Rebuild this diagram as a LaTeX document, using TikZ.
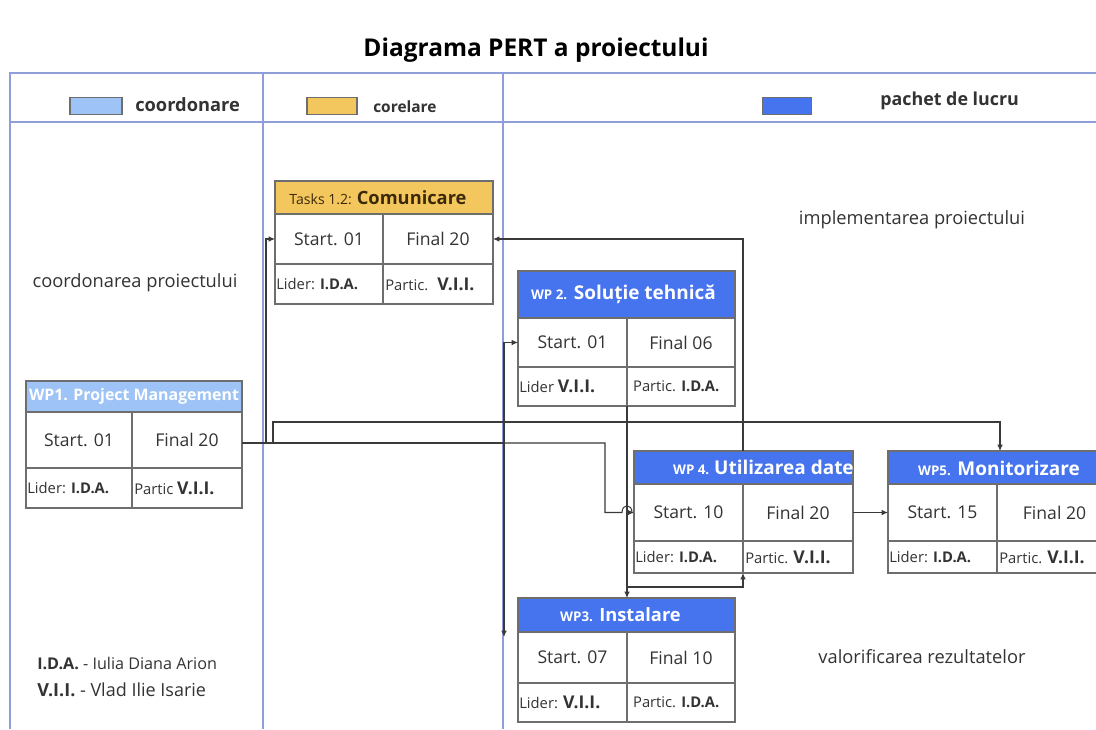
\documentclass[tikz,border=0pt]{standalone}
\usepackage{fontspec}
\setmainfont{Open Sans}
\usetikzlibrary{arrows.meta,calc}
\definecolor{colline}{HTML}{8E9ED8}
\definecolor{lblue}{HTML}{9DC3F7}
\definecolor{gold}{HTML}{F4C75E}
\definecolor{wpblue}{HTML}{4673EE}
\definecolor{bord}{HTML}{6E6E6E}
\definecolor{connc}{HTML}{3A3A3A}
\definecolor{txt}{HTML}{333333}
\definecolor{brownt}{HTML}{3B2A0A}

\newcommand{\wpbox}[9]{%
 \node[cellbox, fill=#9, anchor=north west, minimum width={(#4-#2)*0.025cm}, minimum height={(#6-#5)*0.025cm}] (#1-h) at (#2,#5) {};
 \node[cellbox, anchor=north west, minimum width={(#3-#2)*0.025cm}, minimum height={(#7-#6)*0.025cm}] (#1-s) at (#2,#6) {};
 \node[cellbox, anchor=north west, minimum width={(#4-#3)*0.025cm}, minimum height={(#7-#6)*0.025cm}] (#1-f) at (#3,#6) {};
 \node[cellbox, anchor=north west, minimum width={(#3-#2)*0.025cm}, minimum height={(#8-#7)*0.025cm}] (#1-l) at (#2,#7) {};
 \node[cellbox, anchor=north west, minimum width={(#4-#3)*0.025cm}, minimum height={(#8-#7)*0.025cm}] (#1-p) at (#3,#7) {};
}
\newcommand{\wptext}[5]{%
 \node[sttxt] (#1-st) at (#1-s) {#2};
 \node[sttxt] (#1-ft) at (#1-f) {#3};
 \node[smtxt, anchor=west] (#1-lt) at ($(#1-l.west)+(1,0)$) {#4};
 \node[smtxt, anchor=west] (#1-pt) at ($(#1-p.west)+(2,0)$) {#5};
}
\newcommand{\bvii}{{\bfseries\fontsize{12.5}{14}\selectfont V.I.I.}}

\begin{document}
\begin{tikzpicture}[x=0.025cm, y=-0.025cm,
  cellbox/.style={draw=bord, line width=0.9pt, inner sep=0pt, outer sep=0pt},
  conn/.style={draw=connc, line width=0.75pt, -{Latex[length=4.5pt,width=4pt]}},
  colline/.style={draw=colline, line width=1.3pt},
  sttxt/.style={font=\fontsize{12.5}{14}\selectfont, text=txt, inner sep=0pt},
  smtxt/.style={font=\fontsize{10.5}{12}\selectfont, text=txt, inner sep=0pt},
  hdrtxt/.style={font=\bfseries\fontsize{11.5}{13}\selectfont, text=white, inner sep=0pt},
  swatch/.style={draw=bord, line width=0.8pt, inner sep=0pt, minimum height={17*0.025cm}},
  legtxt/.style={font=\bfseries\fontsize{13}{15}\selectfont, text=txt, inner sep=0pt},
  coltxt/.style={font=\fontsize{13}{15}\selectfont, text=txt, inner sep=0pt}
]
\clip (0,0) rectangle (1096,729);
\fill[white] (0,0) rectangle (1096,729);

% frame
\draw[colline] (10,729) -- (10,73) -- (1096,73);
\draw[colline] (10,122) -- (1096,122);
\draw[colline] (263,73) -- (263,729);
\draw[colline] (503,73) -- (503,729);

% title
\node[font=\bfseries\fontsize{17.4}{20}\selectfont, text=black] (title) at (536,50) {Diagrama PERT a proiectului};

% legend
\node[swatch, fill=lblue, minimum width={52*0.025cm}] (lg1) at (96,106) {};
\node[legtxt, anchor=west] (lg1t) at (135,105) {coordonare};
\node[swatch, fill=gold, minimum width={50*0.025cm}] (lg2) at (332,106) {};
\node[legtxt, anchor=west, font=\bfseries\fontsize{11}{13}\selectfont] (lg2t) at (373,107) {corelare};
\node[swatch, fill=wpblue, minimum width={49*0.025cm}] (lg3) at (787,106) {};
\node[legtxt, anchor=west, font=\bfseries\fontsize{12.7}{15}\selectfont] (lg3t) at (880,101) {pachet de lucru};

% column texts
\node[coltxt] (c1) at (135,283) {coordonarea proiectului};
\node[coltxt] (c3a) at (912,220) {implementarea proiectului};
\node[coltxt] (c3b) at (922,657) {valorificarea rezultatelor};

\node[coltxt, anchor=west, font=\fontsize{11.5}{13}\selectfont] (n1) at (37,663) {\textbf{I.D.A.} - Iulia Diana Arion};
\node[coltxt, anchor=west, font=\fontsize{12.8}{15}\selectfont] (n2) at (37,690) {\textbf{V.I.I.} - Vlad Ilie Isarie};

% boxes
\wpbox{wp1}{26}{132}{242}{381}{412}{468}{508}{lblue}
\wpbox{tk}{275}{383}{493}{181}{214}{264}{304}{gold}
\wpbox{wp2}{518}{627}{735}{271}{318}{367}{406}{wpblue}
\wpbox{wp4}{634}{743}{853}{451}{484}{541}{573}{wpblue}
\wpbox{wp5}{888}{997}{1112}{451}{484}{541}{573}{wpblue}
\wpbox{wp3}{518}{627}{735}{598}{632}{683}{722}{wpblue}

% header texts
\node[hdrtxt, font=\bfseries\fontsize{11.3}{13}\selectfont] (wp1-ht) at (wp1-h) {WP1. Project Management};
\node[hdrtxt, text=brownt, font=\fontsize{10}{12}\selectfont] (tk-ht) at ($(tk-h)+(-6,0)$) {Tasks 1.2: {\bfseries\fontsize{13}{15}\selectfont Comunicare}};
\node[hdrtxt, font=\bfseries\fontsize{13.5}{15}\selectfont] (wp2-ht) at ($(wp2-h)+(-3,0)$) {{\fontsize{9.5}{11}\selectfont WP 2.} Soluție tehnică};
\node[hdrtxt, anchor=east, font=\bfseries\fontsize{13.5}{15}\selectfont] (wp4-ht) at ($(wp4-h.east)+(1,0)$) {{\fontsize{9.5}{11}\selectfont WP 4.}~Utilizarea date};
\node[hdrtxt, font=\bfseries\fontsize{13.5}{15}\selectfont] (wp5-ht) at (999,468) {{\fontsize{9.5}{11}\selectfont WP5.} Monitorizare};
\node[hdrtxt, font=\bfseries\fontsize{13}{15}\selectfont] (wp3-ht) at ($(wp3-h)+(-6,0)$) {{\fontsize{9.5}{11}\selectfont WP3.} Instalare};

% cell texts
\wptext{wp1}{Start. 01}{Final 20}{Lider: \textbf{I.D.A.}}{Partic \bvii}
\wptext{tk}{Start. 01}{Final 20}{Lider: \textbf{I.D.A.}}{Partic. \ \bvii}
\wptext{wp2}{Start. 01}{Final 06}{Lider \bvii}{\ Partic. \textbf{I.D.A.}}
\wptext{wp4}{Start. 10}{Final 20}{Lider: \textbf{I.D.A.}}{Partic. \bvii}
\wptext{wp5}{Start. 15}{Final 20}{Lider: \textbf{I.D.A.}}{Partic. \bvii}
\wptext{wp3}{Start. 07}{Final 10}{Lider: \bvii}{\ Partic. \textbf{I.D.A.}}

% connector helper coordinates
\coordinate (cA) at (266,300);
\coordinate (cB) at (504,400);
\coordinate (cC) at (605,480);
\coordinate (cD) at (273,422);
\coordinate (cE) at (504,637);
\coordinate (cF) at (627,587);
\coordinate (w1out) at ($(wp1-f.east)+(0,3)$);

% connectors
\draw[conn] (w1out) -| (cA) |- (tk-s.west);
\draw[conn] (w1out) -| (cB) |- (wp2-s.west);
\draw[conn] (w1out) -| (cE);
\draw[conn] (w1out) -| (cC) |- ($(wp4-s.west)+(-12,0)$)
   .. controls ($(wp4-s.west)+(-12,-9)$) and ($(wp4-s.west)+(-2,-9)$) .. ($(wp4-s.west)+(-2,0)$) -- (wp4-s.west);
\draw[conn] (w1out) -| (cD) -| (wp5-h.north);
\draw[conn] (wp2-l.south east) -- (wp2-l.south east |- wp3-h.north);
\draw[conn] (cF) -| (wp4-l.south east);
\draw[conn] (wp4-h.north -| wp4-f.west) |- (tk-f.east);
\draw[conn] (wp4-f.east) -- (wp5-s.west);
\end{tikzpicture}
\end{document}
